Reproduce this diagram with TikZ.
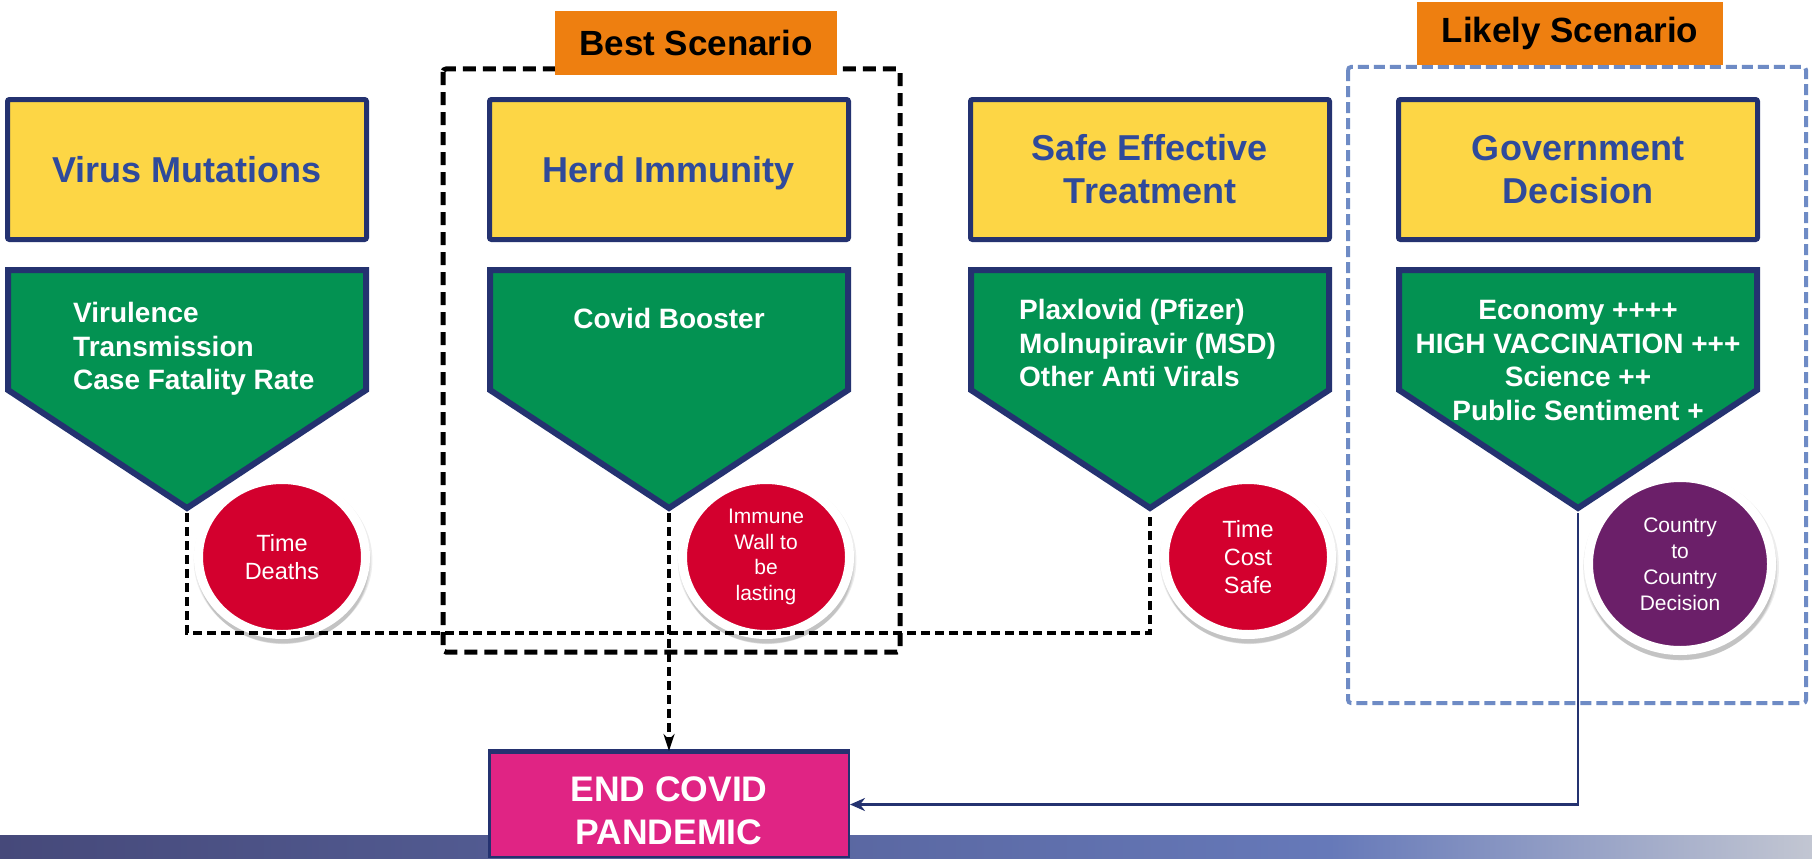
\documentclass[tikz,border=0pt]{standalone}
\usepackage{fontspec}
\setmainfont{Liberation Sans}
\usetikzlibrary{shapes.geometric,shadows,arrows.meta}
\definecolor{yfill}{HTML}{FDD645}
\definecolor{navy}{HTML}{243270}
\definecolor{tblue}{HTML}{2F4A9B}
\definecolor{gfill}{HTML}{039252}
\definecolor{cred}{HTML}{D3002E}
\definecolor{cpurp}{HTML}{6B1F69}
\definecolor{orng}{HTML}{EE7F10}
\definecolor{mag}{HTML}{E02484}
\definecolor{bdash}{HTML}{6E8BC5}
\definecolor{bandA}{HTML}{46497A}
\definecolor{bandB}{HTML}{6679B9}
\definecolor{bandC}{HTML}{C2C6D2}
\tikzset{
  ybox/.style={draw=navy, line width=5pt, fill=yfill, rounded corners=2pt,
    minimum width=359pt, minimum height=140pt, align=center, text=tblue,
    font=\bfseries\fontsize{36}{43}\selectfont, inner sep=0pt},
  oneline/.style={text height=26pt, text depth=0pt},
  gpent/.style={draw=navy, line width=6pt, fill=gfill, line join=miter},
  gtext/.style={text=white, font=\bfseries\fontsize{28}{33.5}\selectfont, inner sep=0pt},
  bubble/.style={ellipse, draw=white, line width=9pt, text=white, align=center, inner sep=0pt,
    drop shadow={shadow xshift=1pt, shadow yshift=-3pt, shadow scale=1.07, opacity=0.07, fill=black},
    drop shadow={shadow xshift=1pt, shadow yshift=-5pt, shadow scale=1.05, opacity=0.08, fill=black},
    drop shadow={shadow xshift=1pt, shadow yshift=-7pt, shadow scale=1.03, opacity=0.1, fill=black}},
  olbl/.style={fill=orng, text=black, font=\bfseries\fontsize{35}{42}\selectfont, inner sep=0pt},
  blackdash/.style={draw=black, line width=4pt, dash pattern=on 9pt off 5pt, line join=miter},
  endbox/.style={fill=mag, draw=navy, line width=2.5pt, minimum width=359.5pt, minimum height=104.5pt, inner sep=0pt},
  endtext/.style={text=white, align=center, font=\bfseries\fontsize{35.5}{43}\selectfont, inner sep=0pt}
}
\begin{document}
\begin{tikzpicture}[x=1pt, y=-1pt]
\useasboundingbox (0,0) rectangle (1812,859);
\fill[white] (0,0) rectangle (1812,859);
% bottom band
\shade[left color=bandA, right color=bandB] (0,835) rectangle (1330,859);
\shade[left color=bandB, right color=bandC] (1329.5,835) rectangle (1812,859);
% scenario frames
\draw[black, line width=5pt, dash pattern=on 13pt off 7pt, rounded corners=3pt] (443,69) rectangle (900,652);
\draw[bdash, line width=4pt, dash pattern=on 11pt off 5pt, rounded corners=3pt] (1348,67) rectangle (1806,703);
% title boxes
\node[ybox, oneline] (vm) at (187,169.5) {Virus Mutations};
\node[ybox, oneline] (hi) at (669,169.5) {Herd Immunity};
\node[ybox] (se) at (1150,169.5) {Safe Effective\\Treatment};
\node[ybox] (gd) at (1578,169.5) {Government\\Decision};
% green pentagons
\foreach \cx/\nm in {187/t1, 669/t2, 1150/t3, 1578/t4} {
  \draw[gpent] (\cx-179,270) -- (\cx+179,270) -- (\cx+179,390) -- (\cx,508) -- (\cx-179,390) -- cycle;
  \coordinate (\nm) at (\cx,513);
}
\node[gtext, align=left, anchor=west] (vmt) at (73,349) {Virulence\\Transmission\\Case Fatality Rate};
\node[gtext] (hit) at (669,318) {Covid Booster};
\node[gtext, align=left, anchor=west] (set) at (1019,343) {Plaxlovid (Pfizer)\\Molnupiravir (MSD)\\Other Anti Virals};
\node[gtext, align=center] (gdt) at (1578,360.5) {Economy ++++\\HIGH VACCINATION +++\\Science ++\\Public Sentiment +};
% circles
\node[bubble, fill=cred, minimum width=167pt, minimum height=155pt, font=\fontsize{23.5}{28}\selectfont] (c1) at (282,557) {Time\\Deaths};
\node[bubble, fill=cred, minimum width=167pt, minimum height=155pt, font=\fontsize{21}{25.5}\selectfont] (c2) at (766,557) {Immune\\Wall to\\be\\lasting};
\node[bubble, fill=cred, minimum width=167pt, minimum height=155pt, font=\fontsize{23.5}{28}\selectfont] (c3) at (1248,557) {Time\\Cost\\Safe};
\node[bubble, fill=cpurp, minimum width=183pt, minimum height=173pt, font=\fontsize{21}{26}\selectfont] (c4) at (1680,564) {Country\\to\\Country\\Decision};
% scenario labels
\node[olbl, minimum width=282pt, minimum height=64pt] (best) at (696,43) {Best Scenario};
\node[olbl, minimum width=306pt, minimum height=63pt] (likely) at (1570,33.5) {Likely Scenario};
% end box
\node[endbox] (end) at (669,804.5) {};
\draw[navy, line width=4.5pt] (end.north west) -- (end.north east);
\node[endtext] (endt) at (669,811) {END COVID\\PANDEMIC};
% connectors
\coordinate (jl) at (187,633);
\coordinate (jr) at (1150,633);
\draw[blackdash] (t1) -- (jl) -- (jr) -- (t3);
\draw[blackdash, -{Stealth[length=17pt, width=11pt]}] (t2) -- (end.north);
\draw[navy, line width=2.5pt, -{Stealth[length=15pt, width=13pt]}] (t4) |- (end.east);
\end{tikzpicture}
\end{document}
